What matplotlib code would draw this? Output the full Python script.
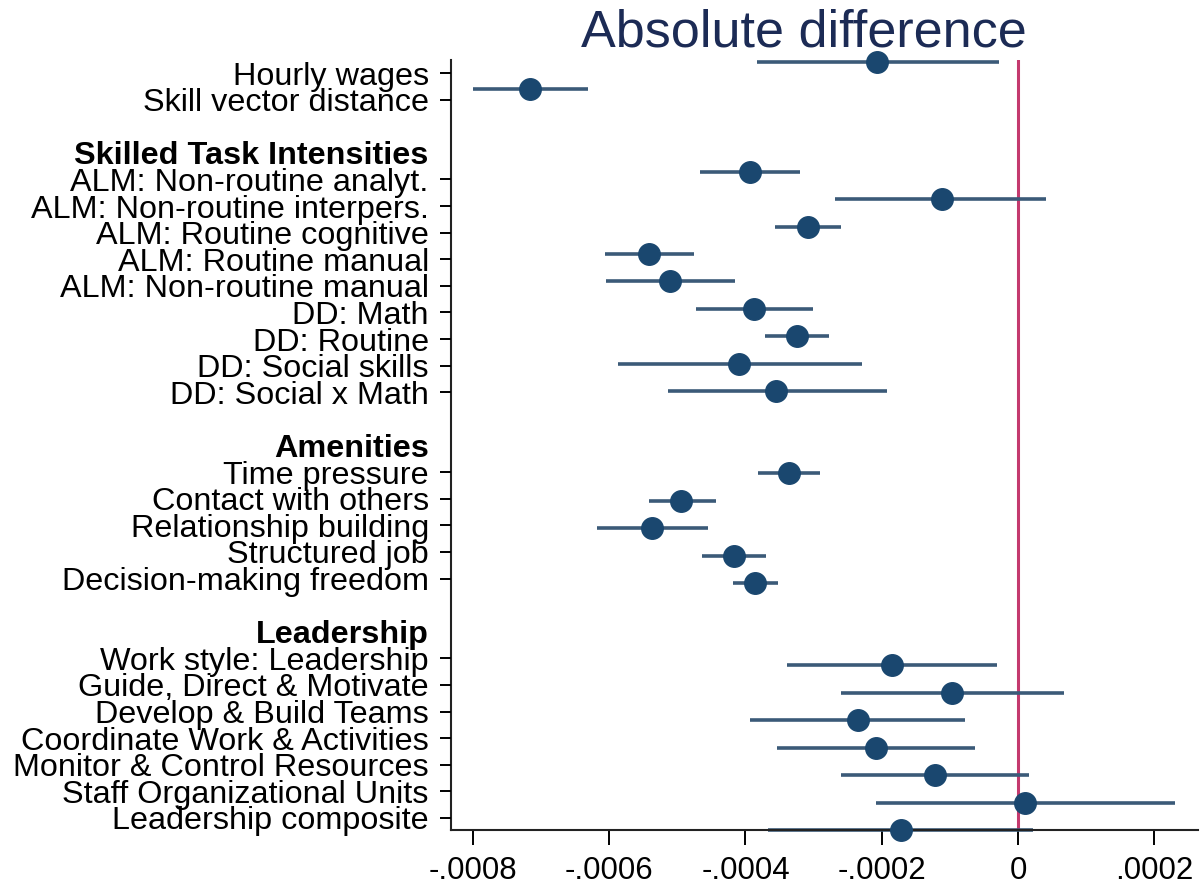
import matplotlib.pyplot as plt
import numpy as np

plt.rcParams['font.family'] = ['Liberation Sans', 'DejaVu Sans']

# rows top to bottom; '' marks a spacer row
labels = ['Hourly wages', 'Skill vector distance', '',
          'Skilled Task Intensities',
          'ALM: Non-routine analyt.', 'ALM: Non-routine interpers.',
          'ALM: Routine cognitive', 'ALM: Routine manual',
          'ALM: Non-routine manual', 'DD: Math', 'DD: Routine',
          'DD: Social skills', 'DD: Social x Math', '',
          'Amenities',
          'Time pressure', 'Contact with others', 'Relationship building',
          'Structured job', 'Decision-making freedom', '',
          'Leadership',
          'Work style: Leadership', 'Guide, Direct & Motivate',
          'Develop & Build Teams', 'Coordinate Work & Activities',
          'Monitor & Control Resources', 'Staff Organizational Units',
          'Leadership composite']
headers = ['Skilled Task Intensities', 'Amenities', 'Leadership']

coef = [-0.000207, -0.000716, None, None,
        -0.000393, -0.000112, -0.000308, -0.000542, -0.000511,
        -0.000388, -0.000324, -0.000410, -0.000355, None, None,
        -0.000336, -0.000495, -0.000537, -0.000417, -0.000386, None, None,
        -0.000185, -0.0000969, -0.000235, -0.000208, -0.000122,
        0.0000103, -0.000172]
lo = [-0.000383, -0.000799, None, None,
      -0.000467, -0.000269, -0.000357, -0.000606, -0.000605,
      -0.000473, -0.000371, -0.000587, -0.000514, None, None,
      -0.000382, -0.000542, -0.000618, -0.000464, -0.000418, None, None,
      -0.000339, -0.000260, -0.000393, -0.000354, -0.000260,
      -0.000208, -0.000367]
hi = [-0.0000279, -0.000631, None, None,
      -0.000320, 0.0000411, -0.000260, -0.000476, -0.000415,
      -0.000301, -0.000277, -0.000229, -0.000192, None, None,
      -0.000291, -0.000443, -0.000455, -0.000370, -0.000352, None, None,
      -0.0000308, 0.0000675, -0.0000778, -0.0000631, 0.0000161,
      0.000230, 0.000022]

xticks = [-0.0008, -0.0006, -0.0004, -0.0002, 0, 0.0002]
xticklabels = ['-.0008', '-.0006', '-.0004', '-.0002', '0', '.0002']

navy = '#1a476f'
ci_col = '#3b5a78'

fig = plt.figure(figsize=(12.02, 8.84), dpi=100)
ax = fig.add_axes([0.3752, 0.0611, 0.6215, 0.871])

rows = [i for i, c in enumerate(coef) if c is not None]
c = np.array([coef[i] for i in rows])
l = np.array([lo[i] for i in rows])
h = np.array([hi[i] for i in rows])

ax.axvline(0, color='#c43a6e', lw=2.2, zorder=1)
ax.hlines(rows, l, h, color=ci_col, lw=2.6, zorder=2, clip_on=False)
ax.plot(c, rows, 'o', color=navy, ms=15.5, zorder=3, clip_on=False)

ax.set_xlim(-0.000832, 0.000264)
ax.set_ylim(28.0, -0.07)
ax.set_yticks([])
ax.set_xticks(xticks)
ax.set_xticklabels(xticklabels, fontsize=22.5)
ax.tick_params(axis='x', length=11, width=1.4, pad=8)
for s in ['top', 'right']:
    ax.spines[s].set_visible(False)
for s in ['left', 'bottom']:
    ax.spines[s].set_linewidth(1.5)
    ax.spines[s].set_color('#222222')

# the labels sit on their own, slightly tighter, vertical scale
ax2 = ax.twinx()
ax2.set_ylim(28.451, -0.489)
ax2.yaxis.tick_left()
shown = [i for i, t in enumerate(labels) if t != '']
ax2.set_yticks(shown)
ax2.set_yticklabels([labels[i] for i in shown], fontsize=23.3)
ax2.tick_params(axis='y', length=8, width=1.4, pad=8)
for tick, i in zip(ax2.yaxis.get_major_ticks(), shown):
    if labels[i] in headers:
        tick.tick1line.set_visible(False)
        tick.label1.set_fontweight('bold')
for s in ax2.spines.values():
    s.set_visible(False)

fig.text(0.669, 0.963, 'Absolute difference', fontsize=37.5, color='#1c2b55',
         ha='center', va='center')

plt.savefig('out.png', dpi=100)
